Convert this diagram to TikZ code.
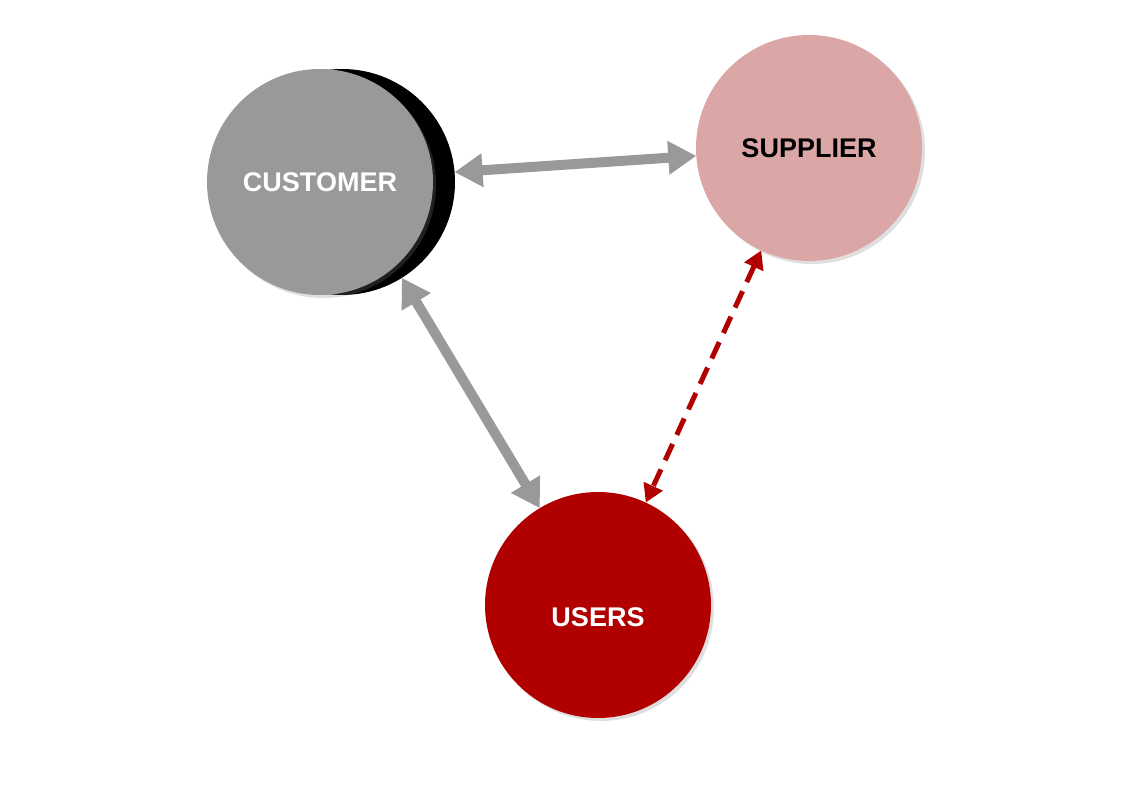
\documentclass[tikz,border=0pt]{standalone}
\usepackage{fontspec}
\setmainfont{Liberation Sans}
\usetikzlibrary{arrows.meta,shadows}
\definecolor{cgray}{HTML}{999999}
\definecolor{supp}{HTML}{DBA6A6}
\definecolor{usr}{HTML}{B00000}
\tikzset{
  bubble/.style={circle,minimum size=226pt,inner sep=0pt,outer sep=0pt,
    font=\fontsize{27}{30}\selectfont\bfseries,
    drop shadow={shadow xshift=3pt,shadow yshift=-3pt,opacity=0.25,fill=gray}},
  grayarrow/.style={line width=10pt,draw=cgray,
    {Triangle[width=32pt,length=28pt]}-{Triangle[width=32pt,length=28pt]}},
  redarrow/.style={line width=5pt,draw=usr,dash pattern=on 18pt off 10pt,
    {Triangle[width=20pt,length=18pt]}-{Triangle[width=20pt,length=18pt]}},
}
\begin{document}
\begin{tikzpicture}[x=1pt,y=1pt]
\useasboundingbox (0,0) rectangle (1134,790);
\node[circle,minimum size=226pt,inner sep=0pt,outer sep=0pt,fill=black] (cshadow) at (342,608) {};
\node[bubble,fill=cgray,text=white] (cust) at (320,608) {CUSTOMER};
\node[bubble,fill=supp,text=black] (supplier) at (809,642) {SUPPLIER};
\node[bubble,fill=usr,text=white] (users) at (598,185) {};
\node[font=\fontsize{27}{30}\selectfont\bfseries,text=white] (userslbl) at (598,173) {USERS};
\draw[grayarrow] (cshadow.5) -- (supplier.184);
\draw[grayarrow] (cshadow.-58) -- (users.121);
\draw[redarrow] (supplier.245.7) -- (users.65.9);
\end{tikzpicture}
\end{document}
